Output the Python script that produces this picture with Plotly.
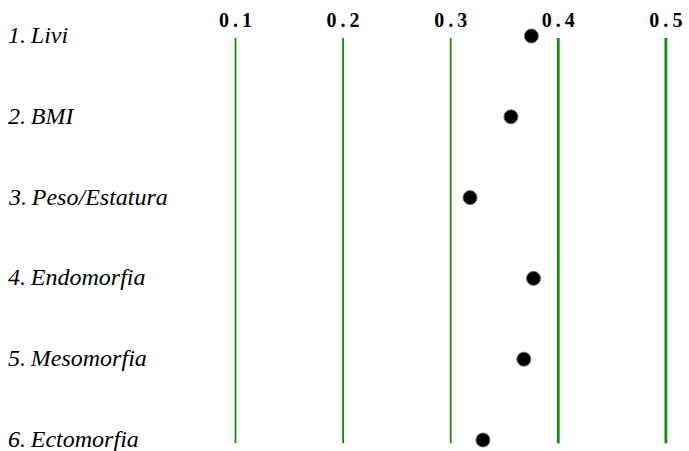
import plotly.graph_objects as go

# Correlation coefficient per anthropometric indicator
labels = ["1.\u2009Livi", "2.\u2009BMI", "3.\u2009Peso/Estatura", "4.\u2009Endomorfia", "5.\u2009Mesomorfia", "6.\u2009Ectomorfia"]
values = [0.375, 0.356, 0.318, 0.377, 0.368, 0.330]
tick_vals = [0.1, 0.2, 0.3, 0.4, 0.5]
tick_text = ["0\u2009.\u20091", "0\u2009.\u20092", "0\u2009.\u20093", "0\u2009.\u20094", "0\u2009.\u20095"]
line_widths = [1.8, 1.8, 1.8, 2.8, 2.8]

rows = list(range(len(labels)))

fig = go.Figure()

# vertical reference lines at each tick
for tv, lw in zip(tick_vals, line_widths):
    fig.add_trace(go.Scatter(
        x=[tv, tv], y=[rows[0] + 0.025, rows[-1] + 0.04],
        mode="lines", line=dict(color="#158a15", width=lw),
        hoverinfo="skip", showlegend=False,
    ))

fig.add_trace(go.Scatter(
    x=values, y=rows, mode="markers",
    marker=dict(size=14, color="black", line=dict(color="#6a6a6a", width=1)),
    cliponaxis=False, showlegend=False,
))

for r, lab in zip(rows, labels):
    fig.add_annotation(
        x=0, xref="paper", xanchor="left", xshift=6,
        y=r, yref="y", yanchor="middle", yshift=1,
        text=lab, showarrow=False,
        font=dict(family="Liberation Serif", size=24, color="black", style="italic"),
    )

fig.update_layout(
    width=689, height=451,
    margin=dict(l=0, r=0, t=32, b=0),
    paper_bgcolor="white", plot_bgcolor="white",
    xaxis=dict(
        side="top", range=[-0.1189, 0.5215],
        tickmode="array", tickvals=tick_vals, ticktext=tick_text,
        showgrid=False, zeroline=False, showline=False, ticks="",
        tickfont=dict(family="Liberation Serif", size=20, color="black", weight="bold"),
    ),
    yaxis=dict(
        range=[5.136, -0.0495], showgrid=False, zeroline=False,
        showline=False, showticklabels=False, ticks="",
    ),
)

fig.write_html("out.html")
